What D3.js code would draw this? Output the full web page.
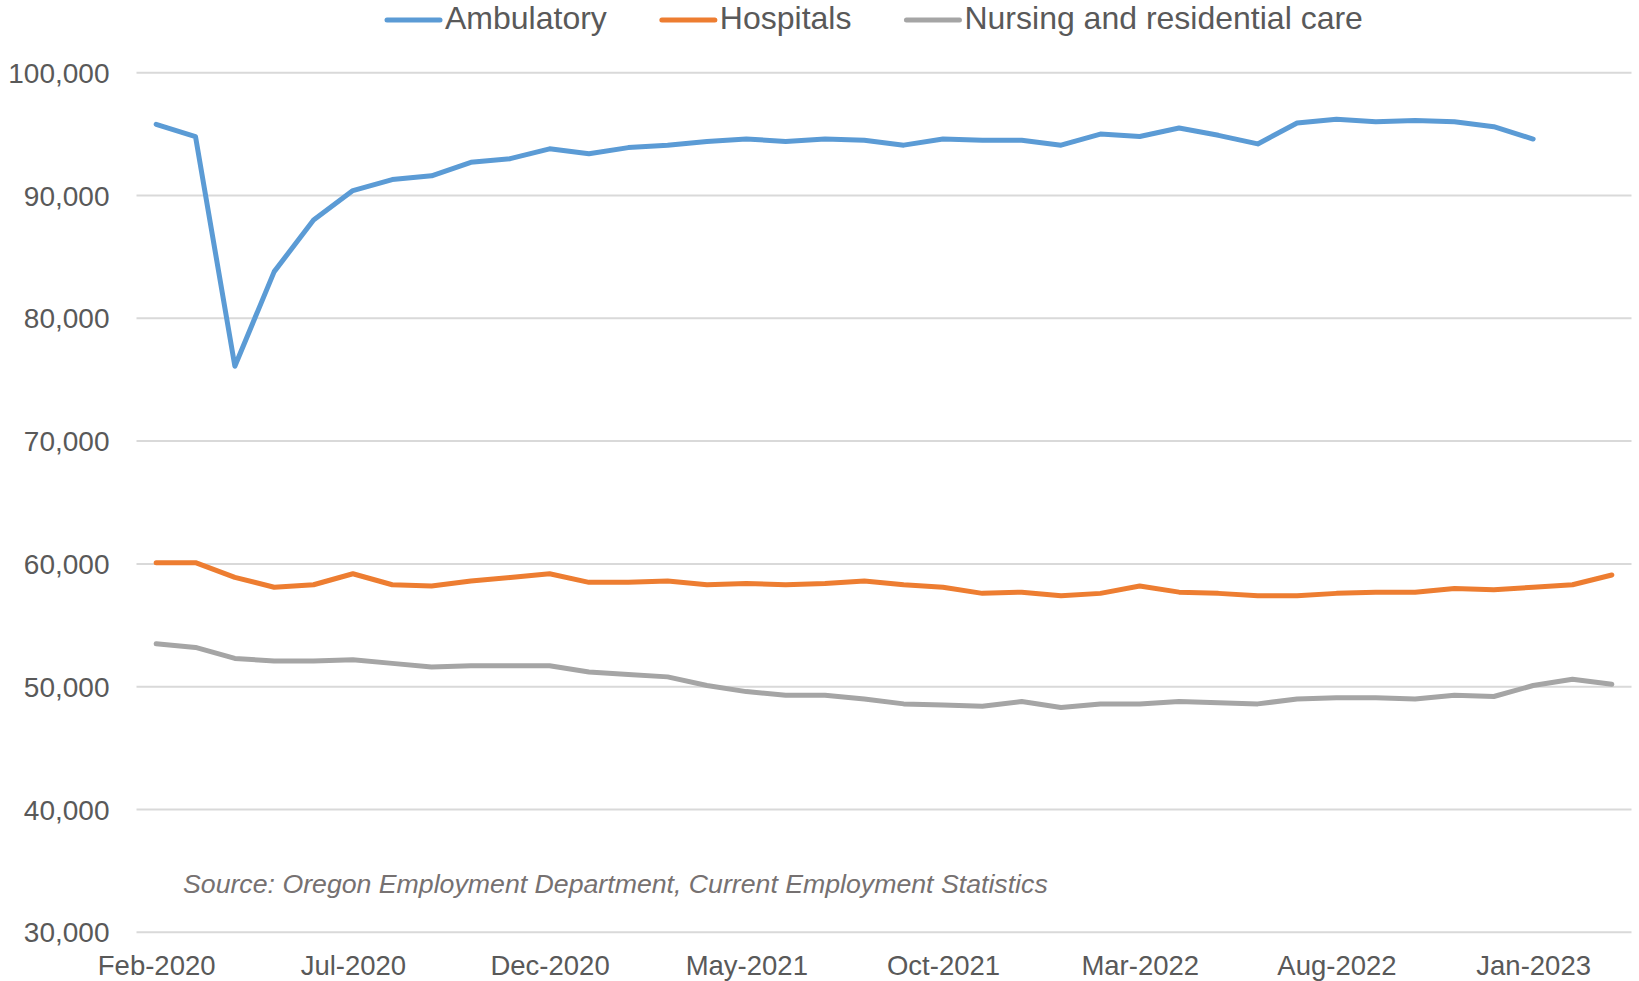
<html>
    <script src='https://d3js.org/d3.v7.min.js'></script>
    <style type="text/css">
        body {
            margin: 0;
            background: #fff;
        }
        text {
            font-family: 'Liberation Sans', Arial, sans-serif;
        }
    </style>
    <body>
        <div id="chart"></div>
        <script>
            // months on the category axis
            var months = ["Feb-2020","Mar-2020","Apr-2020","May-2020","Jun-2020","Jul-2020","Aug-2020","Sep-2020","Oct-2020","Nov-2020","Dec-2020",
                          "Jan-2021","Feb-2021","Mar-2021","Apr-2021","May-2021","Jun-2021","Jul-2021","Aug-2021","Sep-2021","Oct-2021","Nov-2021","Dec-2021",
                          "Jan-2022","Feb-2022","Mar-2022","Apr-2022","May-2022","Jun-2022","Jul-2022","Aug-2022","Sep-2022","Oct-2022","Nov-2022","Dec-2022",
                          "Jan-2023","Feb-2023","Mar-2023"];
            var tickMonths = ["Feb-2020","Jul-2020","Dec-2020","May-2021","Oct-2021","Mar-2022","Aug-2022","Jan-2023"];
            var yTicks = [30000,40000,50000,60000,70000,80000,90000,100000];

            var ambulatory = [95800,94800,76100,83800,88000,90400,91300,91600,92700,93000,93800,
                              93400,93900,94100,94400,94600,94400,94600,94500,94100,94600,94500,94500,
                              94100,95000,94800,95500,94900,94200,95900,96200,96000,96100,96000,95600,
                              94600];
            var hospitals = [60100,60100,58900,58100,58300,59200,58300,58200,58600,58900,59200,
                             58500,58500,58600,58300,58400,58300,58400,58600,58300,58100,57600,57700,
                             57400,57600,58200,57700,57600,57400,57400,57600,57700,57700,58000,57900,
                             58100,58300,59100];
            var nursing = [53500,53200,52300,52100,52100,52200,51900,51600,51700,51700,51700,
                           51200,51000,50800,50100,49600,49300,49300,49000,48600,48500,48400,48800,
                           48300,48600,48600,48800,48700,48600,49000,49100,49100,49000,49300,49200,
                           50100,50600,50200];

            var seriesNames = ["Ambulatory","Hospitals","Nursing and residential care"];
            var seriesColors = ["#5b9bd5","#ed7d31","#a5a5a5"];
            var seriesValues = [ambulatory, hospitals, nursing];

            var width = 1639;
            var height = 981;

            var svg = d3.select("#chart")
                        .append("svg")
                        .attr("width", width)
                        .attr("height", height);

            var xs = d3.scalePoint().domain(months).range([136.5, 1631.5]).padding(0.5);
            var ys = d3.scaleLinear().domain([30000,100000]).range([932.3, 72.7]);

            // gridlines
            svg.append("g")
                .selectAll("line")
                .data(yTicks)
                .enter()
                .append("line")
                .attr("x1", 136.5)
                .attr("x2", 1631.5)
                .attr("y1", function(d){ return ys(d); })
                .attr("y2", function(d){ return ys(d); })
                .attr("stroke", "#d9d9d9")
                .attr("stroke-width", 2);

            // y axis labels
            var yAxis = svg.append("g")
                .attr("transform", "translate(136.5,0)")
                .call(d3.axisLeft(ys).tickValues(yTicks).tickSize(0).tickPadding(27).tickFormat(d3.format(",")));
            yAxis.select(".domain").remove();
            yAxis.selectAll("text")
                .attr("fill", "#595959")
                .style("font-size", "28px")
                .attr("dy", "0.34em");

            // x axis labels
            var xAxis = svg.append("g")
                .attr("transform", "translate(0,932.3)")
                .call(d3.axisBottom(xs).tickValues(tickMonths).tickSize(0).tickPadding(0));
            xAxis.select(".domain").remove();
            xAxis.selectAll("text")
                .attr("fill", "#595959")
                .style("font-size", "27.5px")
                .attr("dy", null)
                .attr("y", 42.7);

            // lines
            var line = d3.line()
                .x(function(d, i){ return xs(months[i]); })
                .y(function(d){ return ys(d); });

            svg.append("g")
                .selectAll("path")
                .data(seriesValues)
                .enter()
                .append("path")
                .attr("d", line)
                .attr("fill", "none")
                .attr("stroke", function(d, i){ return seriesColors[i]; })
                .attr("stroke-width", 5)
                .attr("stroke-linejoin", "round")
                .attr("stroke-linecap", "round");

            // source note
            svg.append("text")
                .attr("x", 183)
                .attr("y", 892.5)
                .attr("fill", "#767171")
                .style("font-size", "26.7px")
                .style("font-style", "italic")
                .text("Source: Oregon Employment Department, Current Employment Statistics");

            // legend
            var lx = 385;
            var legend = svg.append("g");
            seriesNames.forEach(function(name, i){
                legend.append("line")
                    .attr("x1", lx + 2)
                    .attr("x2", lx + 55)
                    .attr("y1", 20)
                    .attr("y2", 20)
                    .attr("stroke", seriesColors[i])
                    .attr("stroke-width", 5)
                    .attr("stroke-linecap", "round");
                var t = legend.append("text")
                    .attr("x", lx + 60)
                    .attr("y", 29.3)
                    .attr("fill", "#595959")
                    .style("font-size", "32px")
                    .text(name);
                lx = lx + 60 + t.node().getComputedTextLength() + 53;
            });
        </script>
    </body>
</html>
